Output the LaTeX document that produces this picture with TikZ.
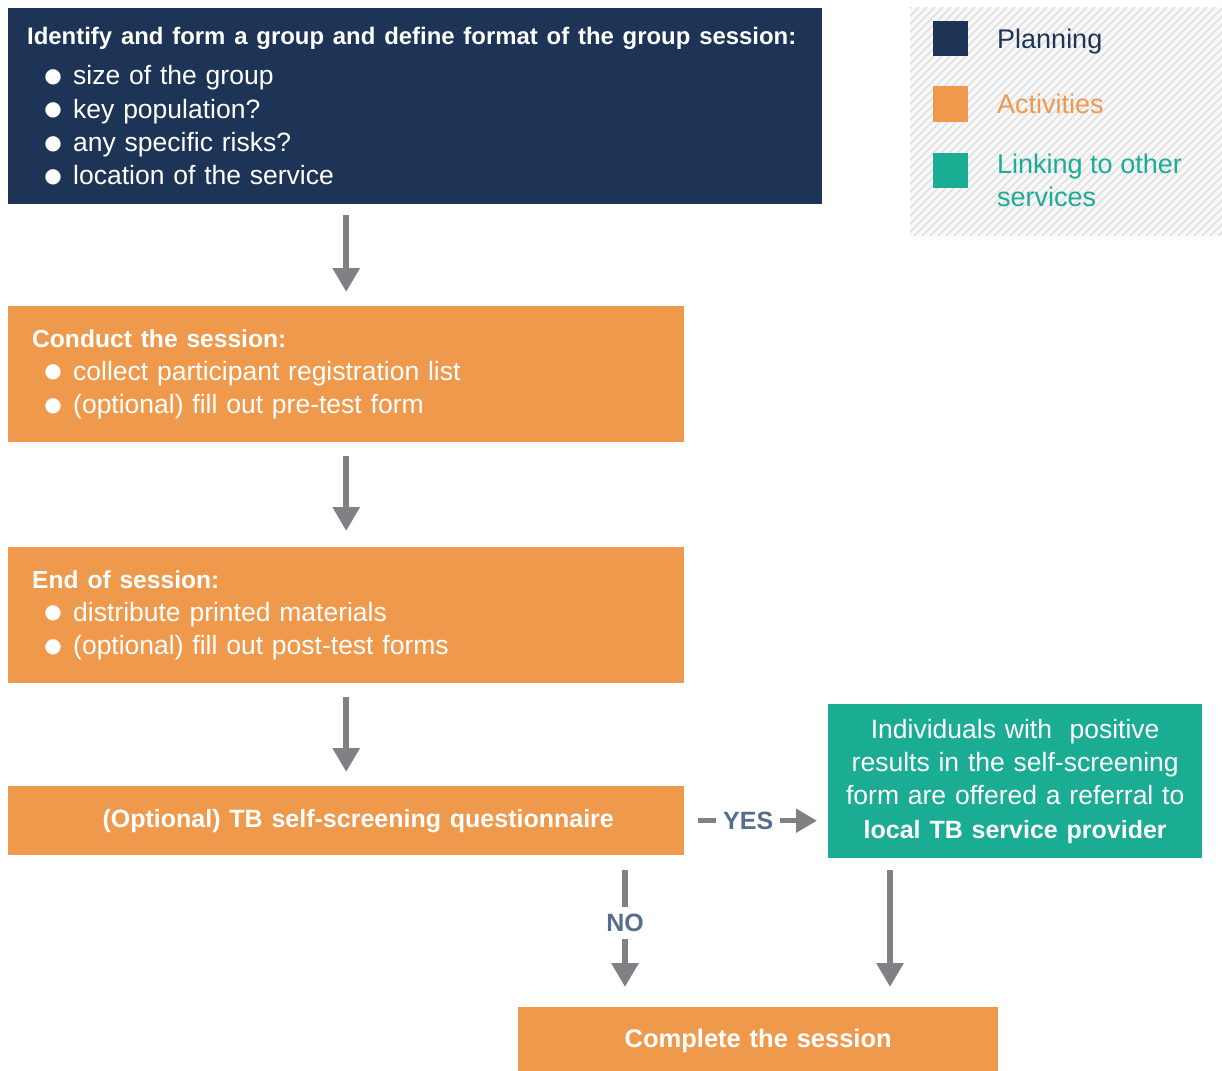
\documentclass[tikz,border=0pt]{standalone}
\usepackage{fontspec}
\setmainfont{Liberation Sans}
\newfontfamily\symfont{DejaVu Sans}
\usetikzlibrary{arrows.meta}
\definecolor{navy}{RGB}{29,52,86}
\definecolor{orng}{RGB}{239,153,77}
\definecolor{teal2}{RGB}{27,172,148}
\definecolor{arrowgray}{RGB}{128,129,133}
\definecolor{slate}{RGB}{84,110,140}
\definecolor{legbg}{RGB}{248,248,248}
\definecolor{hatchc}{RGB}{222,222,222}
\newcommand\bul{\hspace*{20pt}\makebox[12pt]{\raisebox{2.5pt}{\symfont\fontsize{20}{20}\selectfont ●}}\hspace{14pt}}
\tikzset{
  box/.style={rectangle, anchor=north west, inner xsep=19pt, inner ysep=0pt, align=left,
    font=\fontsize{26.5}{33.3}\selectfont},
  conn/.style={draw=arrowgray, line width=6pt, -{Triangle[width=26pt,length=24pt]}},
  conny/.style={draw=arrowgray, line width=5pt, -{Triangle[width=23pt,length=21pt]}},
  lab/.style={fill=white, text=slate, font=\fontsize{25}{25}\selectfont\bfseries, inner xsep=7pt, inner ysep=7pt},
  sq/.style={rectangle, minimum size=35pt, inner sep=0pt},
  legtext/.style={anchor=west, align=left, inner sep=0pt, font=\fontsize{27}{33}\selectfont},
}
\begin{document}
\begin{tikzpicture}[x=1pt,y=-1pt]
\useasboundingbox (0,0) rectangle (1222,1070);
% legend background
\begin{scope}
\clip (910,8) rectangle (1222,235);
\fill[legbg] (910,8) rectangle (1222,235);
\foreach \i in {0,8,...,560} \draw[hatchc, line width=1.4pt] (670+\i,240) -- ++(240,-240);
\end{scope}
\node[sq, fill=navy] (lp) at (950.5,39) {};
\node[sq, fill=orng] (la) at (950.5,104) {};
\node[sq, fill=teal2] (ll) at (950.5,170) {};
\node[legtext, text=navy] (lpt) at (997,42) {Planning};
\node[legtext, text=orng] (lat) at (997,104) {Activities};
\node[legtext, text=teal2] (llt) at (997,180.5) {Linking to other\\services};
% boxes
\node[box, fill=navy, text=white, text width=776pt, minimum height=196pt] (b1) at (8,8)
  {\mbox{\bfseries\fontsize{23.9}{33.3}\selectfont Identify and form a group and define format of the group session:}\\[7pt]
   \bul size of the group\\
   \bul key population?\\
   \bul any specific risks?\\
   \bul location of the service};
\node[box, fill=orng, text=white, text width=638pt, minimum height=136pt] (b2) at (8,306)
  {\hspace*{5pt}\textbf{\fontsize{24.6}{33.3}\selectfont Conduct the session:}\\
   \bul collect participant registration list\\
   \bul (optional) fill out pre-test form};
\node[box, fill=orng, text=white, text width=638pt, minimum height=136pt] (b3) at (8,547)
  {\hspace*{5pt}\textbf{\fontsize{24.6}{33.3}\selectfont End of session:}\\
   \bul distribute printed materials\\
   \bul (optional) fill out post-test forms};
\node[box, fill=orng, text=white, text width=638pt, minimum height=69pt, align=center] (b4) at (8,786)
  {\hspace*{24pt}\textbf{\fontsize{25}{33.3}\selectfont (Optional) TB self-screening questionnaire}};
\node[box, fill=teal2, text=white, inner xsep=8pt, text width=358pt, minimum height=154pt, align=center] (tl) at (828,704)
  {Individuals with~ positive\\results in the self-screening\\form are offered a referral to\\\textbf{\fontsize{25}{33.3}\selectfont local TB service provider}};
\node[box, fill=orng, text=white, inner xsep=0pt, text width=480pt, minimum height=67pt, align=center] (fin) at (518,1007)
  {\textbf{\fontsize{25.5}{33.3}\selectfont Complete the session}};
% connectors
\coordinate (nox) at (625,0);
\coordinate (rx) at (890,0);
\draw[conn, shorten <=11pt, shorten >=14pt] (b2.north |- b1.south) -- (b2.north);
\draw[conn, shorten <=14pt, shorten >=16pt] (b2.south) -- (b3.north);
\draw[conn, shorten <=14pt, shorten >=14pt] (b3.south) -- (b4.north);
\draw[conny, shorten <=14pt, shorten >=11pt] (b4.east) -- node[lab, pos=0.444] (yes) {YES} (tl.west |- b4.east);
\draw[conn, shorten <=15pt, shorten >=20pt] (b4.south -| nox) -- node[lab, pos=0.447, inner xsep=2pt] (no) {NO} (fin.north -| nox);
\draw[conn, shorten <=12pt, shorten >=20pt] (tl.south -| rx) -- (fin.north -| rx);
\end{tikzpicture}
\end{document}
